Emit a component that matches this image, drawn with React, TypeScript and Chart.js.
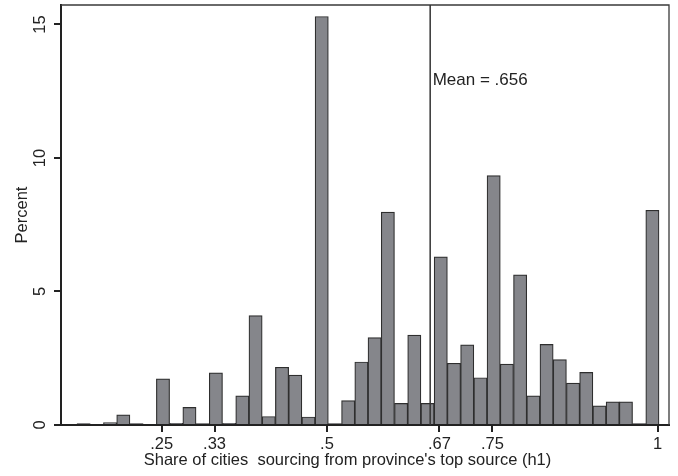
import React, { useEffect, useRef } from "react";
import { Chart, registerables } from "chart.js";

Chart.register(...registerables);

// Histogram bin centers (bin width 0.02)
const binCenters: number[] = [
  0.112, 0.132, 0.152, 0.172, 0.192, 0.212, 0.232, 0.252, 0.272, 0.292,
  0.312, 0.332, 0.352, 0.372, 0.392, 0.412, 0.432, 0.452, 0.472, 0.492,
  0.512, 0.532, 0.552, 0.572, 0.592, 0.612, 0.632, 0.652, 0.672, 0.692,
  0.712, 0.732, 0.752, 0.772, 0.792, 0.812, 0.832, 0.852, 0.872, 0.892,
  0.912, 0.932, 0.952, 0.972, 0.992,
];

// Percent in each bin
const percentValues: number[] = [
  0, 0.05, 0, 0.09, 0.38, 0.05, 0, 1.73, 0.06, 0.66,
  0.05, 1.95, 0.06, 1.09, 4.1, 0.32, 2.16, 1.87, 0.3, 15.3,
  0.05, 0.91, 2.36, 3.27, 7.97, 0.81, 3.37, 0.81, 6.3, 2.31,
  3.0, 1.77, 9.34, 2.28, 5.62, 1.09, 3.02, 2.45, 1.57, 1.97,
  0.72, 0.87, 0.87, 0.05, 8.04,
];

const xTickValues: number[] = [0.25, 0.33, 0.5, 0.67, 0.75, 1];
const xTickLabels: string[] = [".25", ".33", ".5", ".67", ".75", "1"];
const yTickValues: number[] = [0, 5, 10, 15];
const yTickLabels: string[] = ["0", "5", "10", "15"];

const meanValue = 0.656;
const meanLabel = "Mean = .656";
const xTitle = "Share of cities  sourcing from province's top source (h1)";
const yTitle = "Percent";

const FONT = "'Liberation Sans', Arial, Helvetica, sans-serif";

export default function App() {
  const ref = useRef<HTMLCanvasElement | null>(null);

  useEffect(() => {
    if (!ref.current) return;

    const decor = {
      id: "stataDecor",
      afterDraw(chart: any) {
        const ctx = chart.ctx;
        const { left, right, top, bottom } = chart.chartArea;
        const xs = chart.scales.x;
        const ys = chart.scales.y;
        ctx.save();
        // frame top & right
        ctx.strokeStyle = "#3a3a3a";
        ctx.lineWidth = 1.3;
        ctx.beginPath();
        ctx.moveTo(left, top);
        ctx.lineTo(right, top);
        ctx.lineTo(right, bottom);
        ctx.stroke();

        // mean line
        const mx = xs.getPixelForValue(meanValue);
        ctx.strokeStyle = "#333";
        ctx.lineWidth = 1.5;
        ctx.beginPath();
        ctx.moveTo(mx, top);
        ctx.lineTo(mx, bottom);
        ctx.stroke();

        ctx.fillStyle = "#222";
        ctx.font = `17px ${FONT}`;
        ctx.textAlign = "left";
        ctx.textBaseline = "alphabetic";
        ctx.fillText(meanLabel, mx + 2.5, ys.getPixelForValue(12.73));

        // y tick labels, rotated
        ctx.font = `16.5px ${FONT}`;
        ctx.textAlign = "center";
        yTickValues.forEach((v, i) => {
          const py = ys.getPixelForValue(v);
          ctx.save();
          ctx.translate(left - 16.5, py);
          ctx.rotate(-Math.PI / 2);
          ctx.fillText(yTickLabels[i], 0, 0);
          ctx.restore();
        });

        // y title
        ctx.save();
        ctx.translate(left - 34.3, (top + bottom) / 2);
        ctx.rotate(-Math.PI / 2);
        ctx.fillText(yTitle, 0, 0);
        ctx.restore();

        // x title
        ctx.textAlign = "center";
        ctx.fillText(xTitle, 347.5, bottom + 40);
        ctx.restore();
      },
    };

    const chart = new Chart(ref.current, {
      type: "bar",
      data: {
        datasets: [
          {
            data: binCenters.map((c, i) => ({ x: c, y: percentValues[i] })),
            backgroundColor: "#85868b",
            borderColor: "#2e2e2e",
            borderWidth: 1.2,
            barPercentage: 1,
            categoryPercentage: 1,
          },
        ],
      },
      options: {
        animation: false,
        responsive: false,
        devicePixelRatio: 1,
        layout: { padding: { top: 5, right: 9, left: 0, bottom: 0 } },
        plugins: { legend: { display: false }, tooltip: { enabled: false } },
        scales: {
          x: {
            type: "linear",
            offset: false,
            min: 0.0978,
            max: 1.0171,
            afterBuildTicks: (scale: any) => {
              scale.ticks = xTickValues.map((v) => ({ value: v }));
            },
            afterFit: (scale: any) => {
              scale.height = 51;
            },
            ticks: {
              autoSkip: false,
              maxRotation: 0,
              padding: 3,
              color: "#222",
              font: { family: FONT, size: 16.5 },
              callback: (v: any) => {
                const i = xTickValues.indexOf(Number(v));
                return i >= 0 ? xTickLabels[i] : "";
              },
            },
            grid: {
              offset: false,
              drawOnChartArea: false,
              drawTicks: true,
              tickLength: 7,
              color: "#222",
              lineWidth: 2,
            },
            border: { display: true, color: "#222", width: 2 },
          },
          y: {
            type: "linear",
            min: 0,
            max: 15.73,
            afterBuildTicks: (scale: any) => {
              scale.ticks = yTickValues.map((v) => ({ value: v }));
            },
            afterFit: (scale: any) => {
              scale.width = 61;
            },
            ticks: { display: false },
            grid: {
              drawOnChartArea: false,
              drawTicks: true,
              tickLength: 7,
              color: "#222",
              lineWidth: 2,
            },
            border: { display: true, color: "#222", width: 2 },
          },
        },
      },
      plugins: [decor],
    } as any);

    return () => chart.destroy();
  }, []);

  return (
    <div style={{ position: "fixed", left: 0, top: 0, width: 678, height: 476, background: "#fff" }}>
      <canvas ref={ref} width={678} height={476} style={{ width: 678, height: 476, display: "block" }} />
    </div>
  );
}
